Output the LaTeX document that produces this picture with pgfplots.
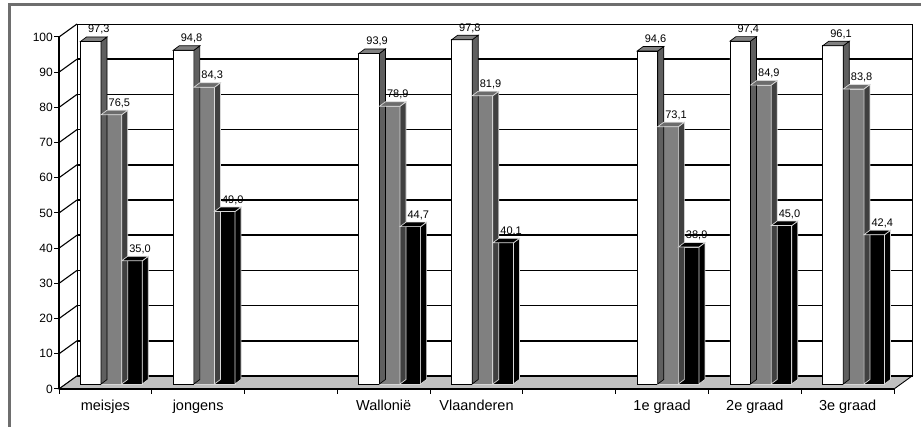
\documentclass[border=0pt]{standalone}
\usepackage{fontspec}
\setmainfont{Liberation Sans}
\usepackage{pgfplots}
\usepackage{pgfplotstable}
\pgfplotsset{compat=1.18}

\definecolor{framegray}{HTML}{6E6E6E}
\definecolor{floorgray}{HTML}{C0C0C0}
\definecolor{midgray}{HTML}{808080}
\definecolor{topgray}{HTML}{6C6C6C}
\definecolor{sidegray}{HTML}{5F5F5F}
\definecolor{darkside}{HTML}{404040}
\definecolor{lightedge}{HTML}{D8D8D8}

% 1pt here = 1px of the reference; half bar width, depth offsets, pt per unit
\def\hw{10.3}\def\dx{6}\def\dy{4.5}\def\yu{3.52}
\def\hh{0}

\pgfdeclareplotmark{top3d}{%
  \pgfpathmoveto{\pgfpoint{-\hw pt}{0pt}}%
  \pgfpathlineto{\pgfpoint{\hw pt}{0pt}}%
  \pgfpathlineto{\pgfpoint{\hw pt+\dx pt}{\dy pt}}%
  \pgfpathlineto{\pgfpoint{\dx pt-\hw pt}{\dy pt}}%
  \pgfpathclose
  \pgfusepathqfillstroke
}
\pgfdeclareplotmark{side3d}{%
  \pgfpathmoveto{\pgfpoint{\hw pt}{0pt}}%
  \pgfpathlineto{\pgfpoint{\hw pt+\dx pt}{\dy pt}}%
  \pgfpathlineto{\pgfpoint{\hw pt+\dx pt}{\dy pt-\yu pt*\hh}}%
  \pgfpathlineto{\pgfpoint{\hw pt}{-\yu pt*\hh}}%
  \pgfpathclose
  \pgfusepathqfillstroke
}

% x = category centre, y = value
\pgfplotstableread{
x   y
0.5 97.3
1.5 94.8
3.5 93.9
4.5 97.8
6.5 94.6
7.5 97.4
8.5 96.1
}\seriesA
\pgfplotstableread{
x   y
0.5 76.5
1.5 84.3
3.5 78.9
4.5 81.9
6.5 73.1
7.5 84.9
8.5 83.8
}\seriesB
\pgfplotstableread{
x   y
0.5 35.0
1.5 49.0
3.5 44.7
4.5 40.1
6.5 38.9
7.5 45.0
8.5 42.4
}\seriesC

\pgfplotsset{
  front/.style n args={3}{ybar, bar width=20.6pt, bar shift=#1,
    xshift=6pt, yshift=5pt, fill=#2, draw=#3, line width=0.7pt},
  side/.style n args={3}{only marks, mark=side3d, xshift=#1, yshift=5pt,
    visualization depends on={rawy \as \hh},
    mark options={fill=#2, draw=#3, line width=0.7pt}},
  top/.style n args={3}{only marks, mark=top3d, xshift=#1, yshift=5pt,
    mark options={fill=#2, draw=#3, line width=0.7pt},
    nodes near coords={\pgfmathprintnumber[assume math mode=true,use comma,fixed,fixed zerofill,precision=1]{\pgfplotspointmeta}},
    every node near coord/.append style={anchor=base, xshift=8pt, yshift=8.5pt,
      inner sep=0pt, text=black, font=\fontsize{11}{13}\selectfont}},
}

\begin{document}
\begin{tikzpicture}
\useasboundingbox (0pt,0pt) rectangle (921pt,427pt);
\draw[framegray, line width=3pt] (9.7pt,-5pt) -- (9.7pt,422.7pt) -- (930pt,422.7pt);
\begin{axis}[
  at={(59pt,38pt)}, anchor=origin,
  x=92.78pt, y=3.52pt,
  xmin=0, xmax=9, ymin=0, ymax=100,
  clip=false,
  axis x line*=bottom, axis y line*=left,
  axis line style={line width=1.6pt},
  xtick={0,...,9},
  xticklabels={meisjes,jongens,{},Wallonië,Vlaanderen,{},1e graad,2e graad,3e graad},
  x tick label as interval,
  ytick={0,10,...,100},
  tick align=outside,
  major tick length=5pt,
  tick style={black, line width=1pt},
  /pgf/number format/assume math mode=true,
  yticklabel style={font=\fontsize{12}{14}\selectfont, inner sep=0pt, xshift=-1pt},
  xticklabel style={font=\fontsize{14.5}{16}\selectfont, inner sep=0pt, yshift=-6pt},
]
% back wall: grid lines and frame
\pgfplotsinvokeforeach{10,20,...,90}{
  \draw[line width=1.6pt] ([xshift=18pt,yshift=13pt]axis cs:0,#1) -- ([xshift=18pt,yshift=13pt]axis cs:9,#1);
}
\draw[line width=0.9pt] ([xshift=18pt,yshift=13pt]axis cs:0,0) rectangle ([xshift=18pt,yshift=13pt]axis cs:9,100);
% left side wall
\pgfplotsinvokeforeach{0,10,...,100}{
  \draw[line width=1.1pt] (axis cs:0,#1) -- ([xshift=18pt,yshift=13pt]axis cs:0,#1);
}
% floor
\filldraw[fill=floorgray, draw=black, line width=0.9pt] (axis cs:0,0) -- (axis cs:9,0)
  -- ([xshift=18pt,yshift=13pt]axis cs:9,0) -- ([xshift=18pt,yshift=13pt]axis cs:0,0) -- cycle;
\draw[line width=1.6pt] ([xshift=18pt,yshift=13pt]axis cs:0,0) -- ([xshift=18pt,yshift=13pt]axis cs:9,0);
\draw[line width=1.6pt] (axis cs:0,0) -- (axis cs:9,0);

% white series
\addplot[front={-20.6pt}{white}{black}] table[x=x,y=y] {\seriesA};
\addplot[side={-14.6pt}{sidegray}{black}] table[x=x,y=y] {\seriesA};
\addplot[top={-14.6pt}{midgray}{black}] table[x=x,y=y] {\seriesA};
% gray series
\addplot[front={0pt}{midgray}{lightedge}] table[x=x,y=y] {\seriesB};
\addplot[side={6pt}{darkside}{lightedge}] table[x=x,y=y] {\seriesB};
\addplot[top={6pt}{topgray}{lightedge}] table[x=x,y=y] {\seriesB};
% black series
\addplot[front={20.6pt}{black}{lightedge}] table[x=x,y=y] {\seriesC};
\addplot[side={26.6pt}{black}{lightedge}] table[x=x,y=y] {\seriesC};
\addplot[top={26.6pt}{black}{lightedge}] table[x=x,y=y] {\seriesC};
\end{axis}
\end{tikzpicture}
\end{document}
